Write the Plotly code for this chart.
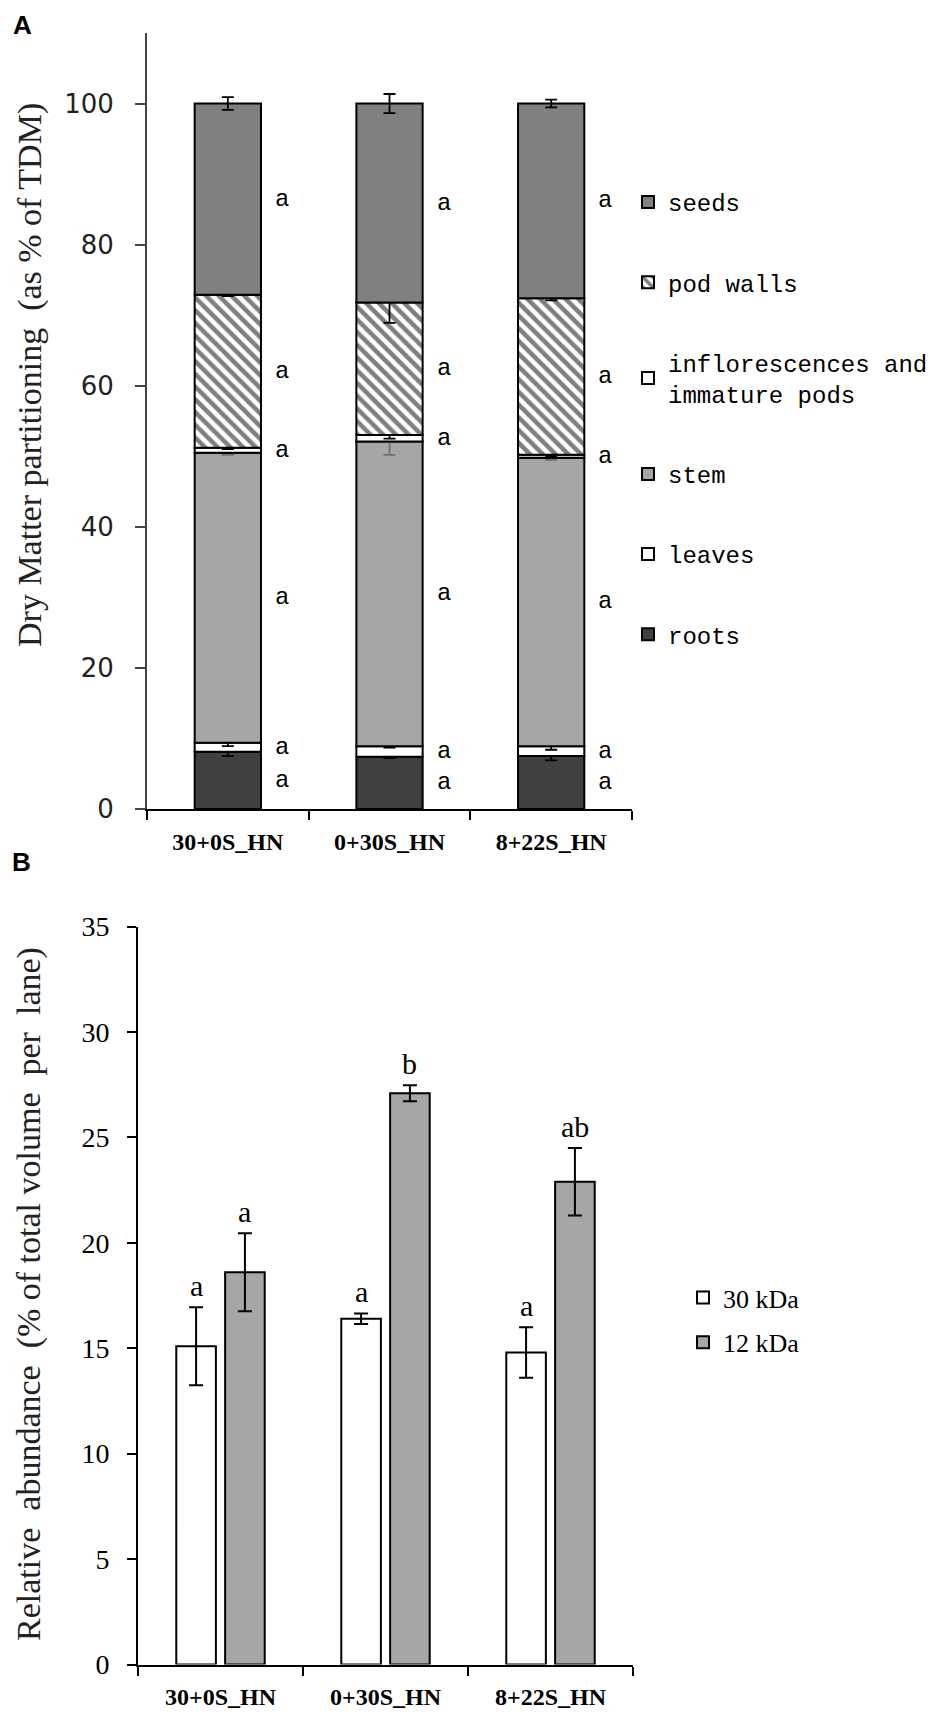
import numpy as np
import plotly.graph_objects as go

# ========== DATA ==========
categories = ['30+0S_HN', '0+30S_HN', '8+22S_HN']

# panel A - dry matter partitioning, % of TDM (stack order bottom -> top)
roots = [8.1, 7.4, 7.5]
leaves = [1.3, 1.5, 1.4]
stem = [41.1, 43.2, 40.9]
inflorescences = [0.7, 0.9, 0.4]
pod_walls = [21.7, 18.8, 22.2]
seeds = [27.1, 28.2, 27.6]

roots_err = [0.6, 0.2, 0.6]
leaves_err = [0.5, 0.2, 0.5]
stem_err = [0.3, 1.9, 0.3]
inflorescences_err = [0.2, 0.5, 0.2]
pod_walls_err = [0.2, 2.9, 0.3]
seeds_err = [0.9, 1.35, 0.55]

letters_a = ['a', 'a', 'a']

# panel B - relative abundance, % of total volume per lane
kda30 = [15.1, 16.4, 14.8]
kda30_err = [1.85, 0.25, 1.2]
kda12 = [18.6, 27.1, 22.9]
kda12_err = [1.85, 0.38, 1.6]
letters_30 = ['a', 'a', 'a']
letters_12 = ['a', 'b', 'ab']

W, H = 950, 1720
OFF = 8  # page body margin, positions below are measured on the full page


def px_x(v):
    return (v - OFF) / W


def px_y(v):
    return 1 - (v - OFF) / H


fig = go.Figure()
annotations = []

# ========== PANEL A ==========
segments = [
    ('roots', roots, roots_err, '#404040', None, 'black'),
    ('leaves', leaves, leaves_err, 'white', None, 'black'),
    ('stem', stem, stem_err, '#a6a6a6', None, '#707070'),
    ('inflorescences and<br>immature pods', inflorescences, inflorescences_err, 'white', None, 'black'),
    ('pod walls', pod_walls, pod_walls_err, 'white', '\\', 'black'),
    ('seeds', seeds, seeds_err, '#808080', None, 'black'),
]

base = np.zeros(len(categories))
for k, (name, vals, errs, fill, shape, ecol) in enumerate(segments):
    marker = dict(color=fill, line=dict(color='black', width=2))
    if shape:
        marker['pattern'] = dict(shape=shape, fgcolor='black', bgcolor='white', size=9, solidity=0.5)
    fig.add_trace(go.Bar(
        x=categories, y=vals, base=list(base), name=name,
        width=0.41, offset=-0.205,
        marker=marker,
        error_y=dict(type='data', array=errs, color=ecol, thickness=1.8, width=6),
        xaxis='x', yaxis='y', legend='legend', legendgroup=name,
        legendrank=len(segments) - k,
    ))
    for i, v in enumerate(vals):
        annotations.append(dict(
            x=i + 0.335, y=base[i] + v / 2, xref='x', yref='y', text=letters_a[i],
            showarrow=False, font=dict(family='Liberation Mono', size=24, color='black'),
        ))
    base = base + np.array(vals)

# ========== PANEL B ==========
fig.add_trace(go.Bar(
    x=categories, y=kda30, name='30 kDa', width=0.24, offset=-0.268,
    marker=dict(color='white', line=dict(color='black', width=2)),
    error_y=dict(type='data', array=kda30_err, color='black', thickness=2, width=7),
    xaxis='x2', yaxis='y2', legend='legend2', legendgroup='30',
))
fig.add_trace(go.Bar(
    x=categories, y=kda12, name='12 kDa', width=0.24, offset=0.028,
    marker=dict(color='#a6a6a6', line=dict(color='black', width=2)),
    error_y=dict(type='data', array=kda12_err, color='black', thickness=2, width=7),
    xaxis='x2', yaxis='y2', legend='legend2', legendgroup='12',
))
for i in range(len(categories)):
    for vals, errs, labs, dx in [(kda30, kda30_err, letters_30, -0.148), (kda12, kda12_err, letters_12, 0.148)]:
        annotations.append(dict(
            x=i + dx, y=vals[i] + errs[i], xref='x2', yref='y2', text=labs[i],
            showarrow=False, yanchor='bottom', yshift=3,
            font=dict(family='Liberation Serif', size=30, color='black'),
        ))

# ========== TITLES / PANEL LABELS ==========
annotations += [
    dict(x=px_x(22), y=px_y(25), xref='paper', yref='paper', text='<b>A</b>', showarrow=False,
         xanchor='center', yanchor='middle', font=dict(family='Liberation Sans', size=26, color='black')),
    dict(x=px_x(21), y=px_y(862), xref='paper', yref='paper', text='<b>B</b>', showarrow=False,
         xanchor='center', yanchor='middle', font=dict(family='Liberation Sans', size=26, color='black')),
    dict(x=px_x(30), y=px_y(375), xref='paper', yref='paper', text='Dry Matter partitioning  (as % of TDM)',
         textangle=-90, showarrow=False, xanchor='center', yanchor='middle',
         font=dict(family='Liberation Serif', size=34, color='#222')),
    dict(x=px_x(29), y=px_y(1294), xref='paper', yref='paper',
         text='Relative  abundance  (% of total volume  per  lane)',
         textangle=-90, showarrow=False, xanchor='center', yanchor='middle',
         font=dict(family='Liberation Serif', size=34, color='#222')),
]

cat_font = dict(family='Liberation Serif', size=24, color='black', weight='bold')

fig.update_layout(
    width=W, height=H,
    paper_bgcolor='white', plot_bgcolor='white',
    margin=dict(l=0, r=0, t=0, b=0),
    barmode='overlay',
    annotations=annotations,
    xaxis=dict(domain=[px_x(147), px_x(632)], anchor='y', type='category', range=[-0.5, 2.5],
               showline=True, linecolor='black', linewidth=2, ticks='outside', tickson='boundaries',
               ticklen=9, tickwidth=2, tickcolor='black', tickfont=cat_font, ticklabelstandoff=10,
               showgrid=False, automargin=False, fixedrange=True),
    yaxis=dict(domain=[px_y(809), px_y(33)], anchor='x', range=[0, 110], tickvals=[0, 20, 40, 60, 80, 100],
               showline=True, linecolor='#444', linewidth=2, ticks='outside', ticklen=10, tickwidth=2,
               tickcolor='#444', tickfont=dict(family='DejaVu Sans', size=26, color='#222'),
               ticklabelstandoff=16, showgrid=False, zeroline=False, automargin=False, fixedrange=True),
    xaxis2=dict(domain=[px_x(138), px_x(633)], anchor='y2', type='category', range=[-0.5, 2.5],
                showline=True, linecolor='black', linewidth=2, ticks='outside', tickson='boundaries',
                ticklen=9, tickwidth=2, tickcolor='black', tickfont=cat_font, ticklabelstandoff=10,
                showgrid=False, automargin=False, fixedrange=True),
    yaxis2=dict(domain=[px_y(1664.5), px_y(926.6)], anchor='x2', range=[0, 35], dtick=5,
                showline=True, linecolor='black', linewidth=2, ticks='outside', ticklen=9, tickwidth=2,
                tickcolor='black', tickfont=dict(family='Liberation Serif', size=28, color='black'),
                ticklabelstandoff=12, showgrid=False, zeroline=False, automargin=False, fixedrange=True),
    legend=dict(x=px_x(628), y=px_y(180), xanchor='left', yanchor='top', traceorder='grouped',
                font=dict(family='Liberation Mono', size=24, color='black'), tracegroupgap=46,
                itemwidth=30, bgcolor='rgba(0,0,0,0)'),
    legend2=dict(x=px_x(683), y=px_y(1274), xanchor='left', yanchor='top', traceorder='grouped',
                 font=dict(family='Liberation Serif', size=26, color='black'), tracegroupgap=8,
                 itemwidth=30, bgcolor='rgba(0,0,0,0)'),
)

fig.write_html("out.html")
